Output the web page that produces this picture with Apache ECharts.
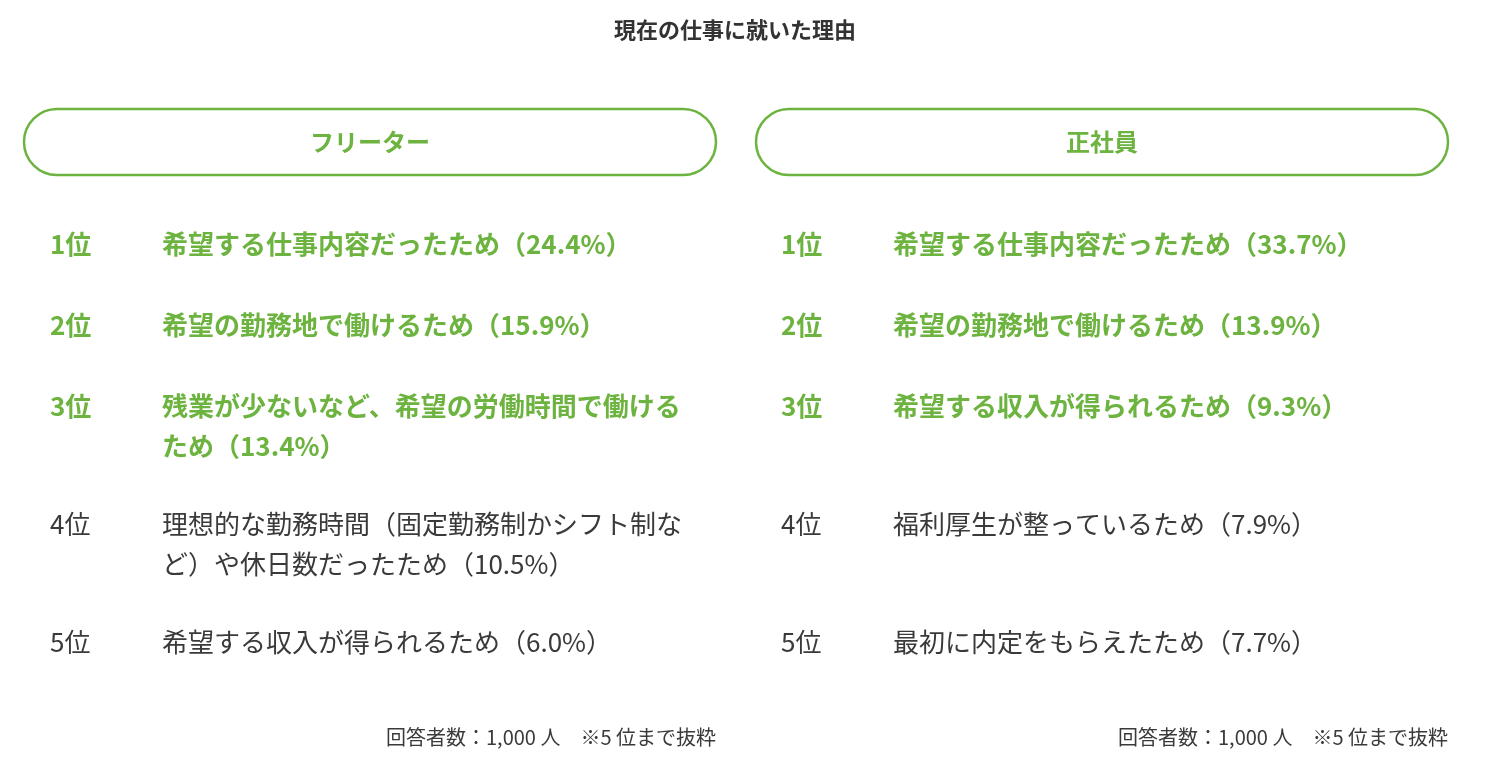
<!DOCTYPE html>
<html><head><meta charset="utf-8">
<script src="https://cdn.jsdelivr.net/npm/echarts@6/dist/echarts.min.js"></script>
<style>html,body{margin:0;padding:0;background:#fff}#c{width:1494px;height:768px}</style>
</head><body><div id="c"></div>
<script>
const title = '現在の仕事に就いた理由';
const groups = ['フリーター', '正社員'];
const ranks = ['1位', '2位', '3位', '4位', '5位'];
const freeterReasons = ['希望する仕事内容だったため', '希望の勤務地で働けるため', '残業が少ないなど、希望の労働時間で働けるため', '理想的な勤務時間（固定勤務制かシフト制など）や休日数だったため', '希望する収入が得られるため'];
const freeterValues = [24.4, 15.9, 13.4, 10.5, 6.0];
const seishainReasons = ['希望する仕事内容だったため', '希望の勤務地で働けるため', '希望する収入が得られるため', '福利厚生が整っているため', '最初に内定をもらえたため'];
const seishainValues = [33.7, 13.9, 9.3, 7.9, 7.7];
const footnote = '回答者数：1,000 人　※5 位まで抜粋';

const GREEN = '#6db33f', DARK = '#3a3a3a';
const FONT = '"Noto Sans CJK JP", "Noto Sans", sans-serif';
const rowTops = [224, 305, 386, 504, 622];
const panels = [
  {x: 24, w: 692, rankX: 50, textX: 162, textW: 545, reasons: freeterReasons, values: freeterValues},
  {x: 756, w: 692, rankX: 781, textX: 893, textW: 545, reasons: seishainReasons, values: seishainValues}
];
const els = [{type: 'text', x: 735, y: 30, style: {text: title, font: 'bold 22px ' + FONT, fill: '#333', align: 'center', verticalAlign: 'middle'}}];
panels.forEach((p, i) => {
  els.push({type: 'rect', shape: {x: p.x, y: 109, width: p.w, height: 66, r: 33}, style: {fill: '#fff', stroke: GREEN, lineWidth: 2.5}});
  els.push({type: 'text', x: p.x + p.w / 2, y: 142, style: {text: groups[i], font: 'bold 24px ' + FONT, fill: GREEN, align: 'center', verticalAlign: 'middle'}});
  p.reasons.forEach((r, k) => {
    const c = k < 3 ? GREEN : DARK, wgt = k < 3 ? 'bold ' : '';
    els.push({type: 'text', x: p.rankX, y: rowTops[k], style: {text: ranks[k], font: wgt + '26px ' + FONT, fill: c, verticalAlign: 'top', lineHeight: 40}});
    els.push({type: 'text', x: p.textX, y: rowTops[k], style: {text: r + '（' + p.values[k].toFixed(1) + '%）', font: wgt + '26px ' + FONT, fill: c, verticalAlign: 'top', lineHeight: 40, width: p.textW, overflow: 'break'}});
  });
  els.push({type: 'text', x: p.x + p.w, y: 737, style: {text: footnote, font: '20px ' + FONT, fill: DARK, align: 'right', verticalAlign: 'middle'}});
});
const chart = echarts.init(document.getElementById('c'));
chart.setOption({backgroundColor: '#fff', graphic: els});
</script></body></html>
